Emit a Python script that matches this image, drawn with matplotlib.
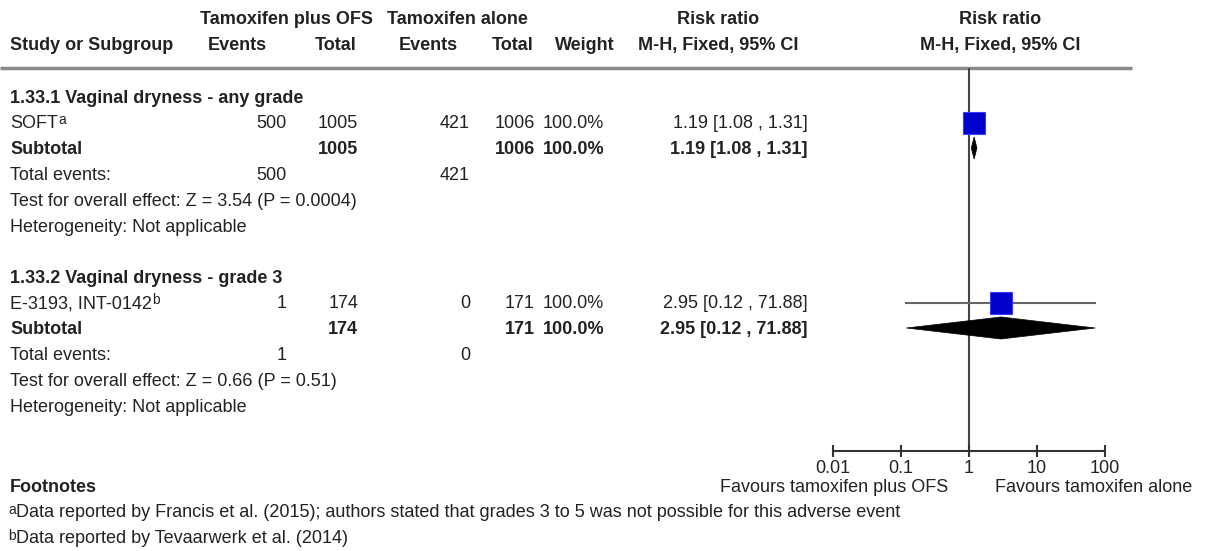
import matplotlib.pyplot as plt
from matplotlib.patches import Polygon

# Study rows
studies = ['SOFT', 'E-3193, INT-0142']
study_notes = ['a', 'b']
events_ofs = [500, 1]
total_ofs = [1005, 174]
events_alone = [421, 0]
total_alone = [1006, 171]
weights = [100.0, 100.0]
rr = [1.19, 2.95]
ci_low = [1.08, 0.12]
ci_high = [1.31, 71.88]

# Subgroup summaries
subgroups = ['1.33.1 Vaginal dryness - any grade', '1.33.2 Vaginal dryness - grade 3']
sub_rr = [1.19, 2.95]
sub_low = [1.08, 0.12]
sub_high = [1.31, 71.88]
z_values = ['3.54', '0.66']
p_values = ['0.0004', '0.51']

ticks = [0.01, 0.1, 1, 10, 100]
tick_labels = ['0.01', '0.1', '1', '10', '100']
footnotes = ['Data reported by Francis et al. (2015); authors stated that grades 3 to 5 was not possible for this adverse event',
             'Data reported by Tevaarwerk et al. (2014)']

plt.rcParams['font.family'] = ['Liberation Sans', 'DejaVu Sans']
TXT = '#222222'
FS = 13

W, H = 1208, 551
fig = plt.figure(figsize=(W / 100, H / 100), dpi=100)
ax = fig.add_axes([0, 0, 1, 1])
ax.set_xlim(0, W)
ax.set_ylim(H, 0)
ax.axis('off')

# forest panel in pixel-aligned axes, log scale for risk ratio
fx0, fx1, fy_top, fy_bot = 833, 1105, 68, 451
axf = fig.add_axes([fx0 / W, 1 - fy_bot / H, (fx1 - fx0) / W, (fy_bot - fy_top) / H])
axf.set_xscale('log')
axf.set_xlim(0.01, 100)
axf.set_ylim(fy_bot, fy_top)
axf.patch.set_alpha(0)
for s in ['top', 'left', 'right']:
    axf.spines[s].set_visible(False)
axf.spines['bottom'].set_color('#333333')
axf.spines['bottom'].set_linewidth(1.5)
axf.set_yticks([])
axf.set_xticks(ticks)
axf.set_xticklabels(tick_labels)
axf.minorticks_off()
axf.tick_params(axis='x', direction='inout', length=9, width=1.5, color='#333333',
                labelsize=FS, labelcolor=TXT, pad=2)
axf.axvline(1, color='#444444', lw=1.5, zorder=1)


def txt(x, y, s, ha='left', bold=False):
    return ax.text(x, y + 1.5, s, ha=ha, va='center', fontsize=FS, color=TXT,
                   fontweight='bold' if bold else 'normal')


def sup(artist, s):
    ax.annotate(s, xy=(1, 0.5), xycoords=artist, xytext=(0.5, 0), textcoords='offset points',
                ha='left', va='baseline', fontsize=FS - 3, color=TXT)


# header
txt(287, 18, 'Tamoxifen plus OFS', 'center', True)
txt(457, 18, 'Tamoxifen alone', 'center', True)
txt(718, 18, 'Risk ratio', 'center', True)
txt(1000, 18, 'Risk ratio', 'center', True)
txt(10, 44, 'Study or Subgroup', bold=True)
txt(237, 44, 'Events', 'center', True)
txt(336, 44, 'Total', 'center', True)
txt(428, 44, 'Events', 'center', True)
txt(513, 44, 'Total', 'center', True)
txt(585, 44, 'Weight', 'center', True)
txt(718, 44, 'M-H, Fixed, 95% CI', 'center', True)
txt(1000, 44, 'M-H, Fixed, 95% CI', 'center', True)
ax.plot([0, 1132], [68, 68], color='#8a8a8a', lw=2.5, solid_capstyle='butt')

# column right edges
c_ev1, c_tot1, c_ev2, c_tot2, c_w, c_ci = 287, 358, 470, 535, 604, 808
group_top = [97, 277]
offsets = [0, 25.5, 51, 76.5, 102.5, 129]

for i in range(len(studies)):
    y0 = group_top[i]
    ys, ysub = y0 + offsets[1], y0 + offsets[2]
    txt(10, y0, subgroups[i], bold=True)

    t = txt(10, ys, studies[i])
    sup(t, study_notes[i])
    txt(c_ev1, ys, f'{events_ofs[i]}', 'right')
    txt(c_tot1, ys, f'{total_ofs[i]}', 'right')
    txt(c_ev2, ys, f'{events_alone[i]}', 'right')
    txt(c_tot2, ys, f'{total_alone[i]}', 'right')
    txt(c_w, ys, f'{weights[i]:.1f}%', 'right')
    txt(c_ci, ys, f'{rr[i]:.2f} [{ci_low[i]:.2f} , {ci_high[i]:.2f}]', 'right')

    txt(10, ysub, 'Subtotal', bold=True)
    txt(c_tot1, ysub, f'{total_ofs[i]}', 'right', True)
    txt(c_tot2, ysub, f'{total_alone[i]}', 'right', True)
    txt(c_w, ysub, f'{weights[i]:.1f}%', 'right', True)
    txt(c_ci, ysub, f'{sub_rr[i]:.2f} [{sub_low[i]:.2f} , {sub_high[i]:.2f}]', 'right', True)

    txt(10, y0 + offsets[3], 'Total events:')
    txt(c_ev1, y0 + offsets[3], f'{events_ofs[i]}', 'right')
    txt(c_ev2, y0 + offsets[3], f'{events_alone[i]}', 'right')
    txt(10, y0 + offsets[4], f'Test for overall effect: Z = {z_values[i]} (P = {p_values[i]})')
    txt(10, y0 + offsets[5], 'Heterogeneity: Not applicable')

    # study estimate: CI line + square
    axf.plot([ci_low[i], ci_high[i]], [ys, ys], color='#666666', lw=1.5, zorder=2)
    axf.plot([rr[i]], [ys], marker='s', markersize=16.5, color='#0000cc',
             markeredgecolor='#3b3bff', markeredgewidth=0.8, zorder=3)
    # subtotal diamond
    h = 11
    axf.add_patch(Polygon([(sub_low[i], ysub), (sub_rr[i], ysub - h),
                           (sub_high[i], ysub), (sub_rr[i], ysub + h)],
                          closed=True, facecolor='black', edgecolor='black', lw=0.5, zorder=3))

# favours labels and footnotes
txt(834, 486, 'Favours tamoxifen plus OFS', 'center')
txt(1094, 486, 'Favours tamoxifen alone', 'center')
txt(10, 486, 'Footnotes', bold=True)
for j, note in enumerate(footnotes):
    y = 513 + j * 26
    s = ax.text(8, y - 3, study_notes[j], ha='left', va='center', fontsize=FS - 3, color=TXT)
    ax.annotate(note, xy=(1, 0.5), xycoords=s, xytext=(0, -2), textcoords='offset points',
                ha='left', va='center', fontsize=FS, color=TXT)

fig.savefig('out.png', dpi=100)
